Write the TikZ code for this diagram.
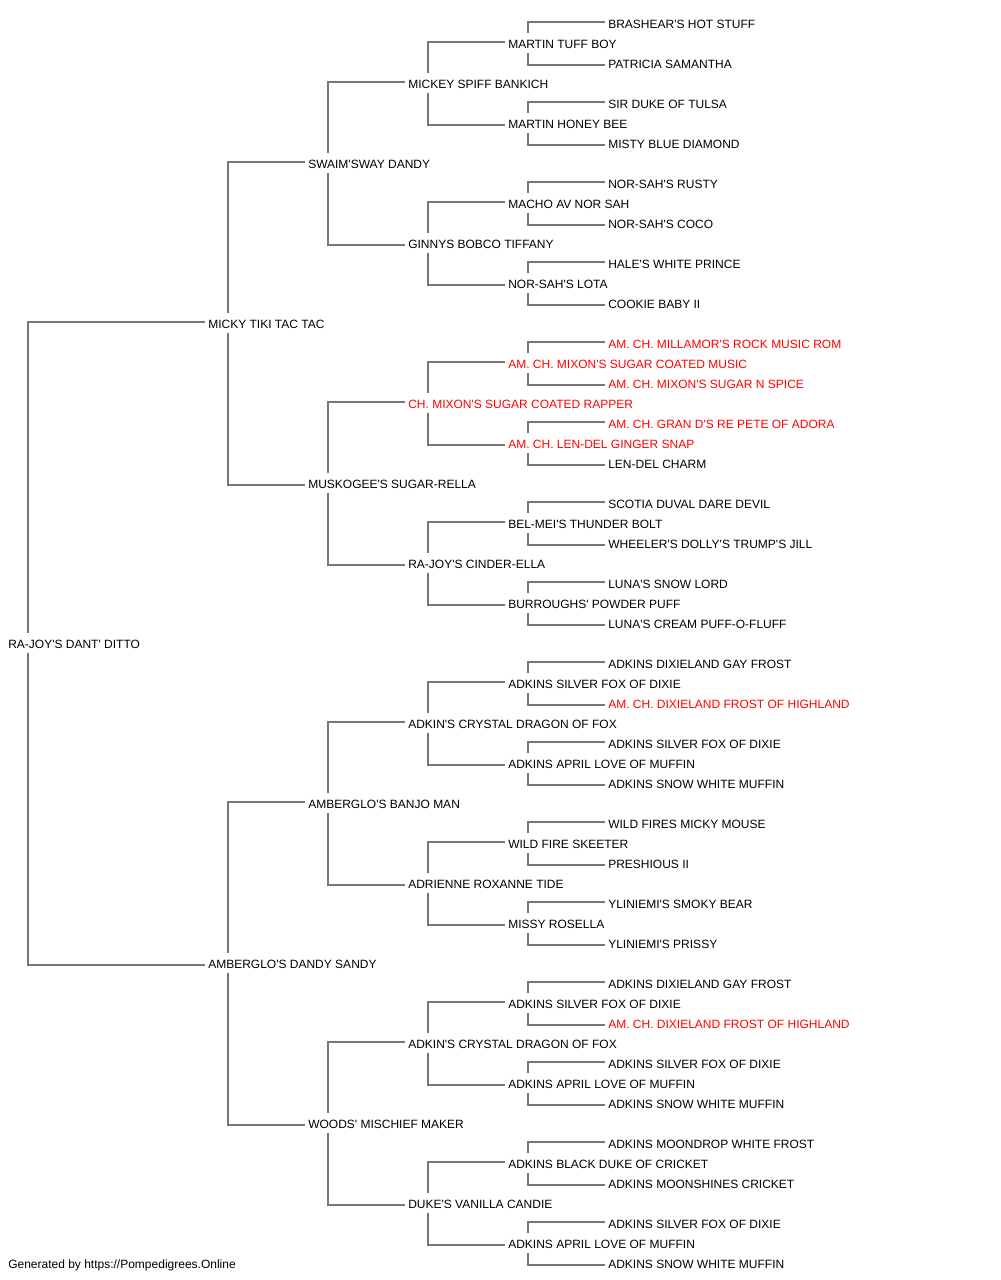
\documentclass[tikz,border=0pt]{standalone}
\usepackage{fontspec}
\setmainfont{Liberation Sans}[Ligatures=TeXOff]
\usetikzlibrary{calc}
\definecolor{linegray}{HTML}{777777}
\definecolor{redname}{HTML}{FF0000}
\tikzset{
  pn/.style={anchor=west, inner xsep=2.25pt, inner ysep=0pt, minimum height=15pt,
    text height=7.94pt, text depth=0pt, font=\fontsize{9pt}{10pt}\selectfont, text=black},
  rn/.style={pn, text=redname},
  conn/.style={draw=linegray, line width=1.5pt}
}
\begin{document}
\begin{tikzpicture}[x=0.75pt,y=-0.75pt]
\useasboundingbox (0,0) rectangle (1000,1280);
% generation 0
\node[pn] (g0-0) at (5,643) {RA-JOY'S DANT' DITTO};
% generation 1
\node[pn] (g1-0) at (205,323) {MICKY TIKI TAC TAC};
\node[pn] (g1-1) at (205,963) {AMBERGLO'S DANDY SANDY};
% generation 2
\node[pn] (g2-0) at (305,163) {SWAIM'SWAY DANDY};
\node[pn] (g2-1) at (305,483) {MUSKOGEE'S SUGAR-RELLA};
\node[pn] (g2-2) at (305,803) {AMBERGLO'S BANJO MAN};
\node[pn] (g2-3) at (305,1123) {WOODS' MISCHIEF MAKER};
% generation 3
\node[pn] (g3-0) at (405,83) {MICKEY SPIFF BANKICH};
\node[pn] (g3-1) at (405,243) {GINNYS BOBCO TIFFANY};
\node[rn] (g3-2) at (405,403) {CH. MIXON'S SUGAR COATED RAPPER};
\node[pn] (g3-3) at (405,563) {RA-JOY'S CINDER-ELLA};
\node[pn] (g3-4) at (405,723) {ADKIN'S CRYSTAL DRAGON OF FOX};
\node[pn] (g3-5) at (405,883) {ADRIENNE ROXANNE TIDE};
\node[pn] (g3-6) at (405,1043) {ADKIN'S CRYSTAL DRAGON OF FOX};
\node[pn] (g3-7) at (405,1203) {DUKE'S VANILLA CANDIE};
% generation 4
\node[pn] (g4-0) at (505,43) {MARTIN TUFF BOY};
\node[pn] (g4-1) at (505,123) {MARTIN HONEY BEE};
\node[pn] (g4-2) at (505,203) {MACHO AV NOR SAH};
\node[pn] (g4-3) at (505,283) {NOR-SAH'S LOTA};
\node[rn] (g4-4) at (505,363) {AM. CH. MIXON'S SUGAR COATED MUSIC};
\node[rn] (g4-5) at (505,443) {AM. CH. LEN-DEL GINGER SNAP};
\node[pn] (g4-6) at (505,523) {BEL-MEI'S THUNDER BOLT};
\node[pn] (g4-7) at (505,603) {BURROUGHS' POWDER PUFF};
\node[pn] (g4-8) at (505,683) {ADKINS SILVER FOX OF DIXIE};
\node[pn] (g4-9) at (505,763) {ADKINS APRIL LOVE OF MUFFIN};
\node[pn] (g4-10) at (505,843) {WILD FIRE SKEETER};
\node[pn] (g4-11) at (505,923) {MISSY ROSELLA};
\node[pn] (g4-12) at (505,1003) {ADKINS SILVER FOX OF DIXIE};
\node[pn] (g4-13) at (505,1083) {ADKINS APRIL LOVE OF MUFFIN};
\node[pn] (g4-14) at (505,1163) {ADKINS BLACK DUKE OF CRICKET};
\node[pn] (g4-15) at (505,1243) {ADKINS APRIL LOVE OF MUFFIN};
% generation 5
\node[pn] (g5-0) at (605,23) {BRASHEAR'S HOT STUFF};
\node[pn] (g5-1) at (605,63) {PATRICIA SAMANTHA};
\node[pn] (g5-2) at (605,103) {SIR DUKE OF TULSA};
\node[pn] (g5-3) at (605,143) {MISTY BLUE DIAMOND};
\node[pn] (g5-4) at (605,183) {NOR-SAH'S RUSTY};
\node[pn] (g5-5) at (605,223) {NOR-SAH'S COCO};
\node[pn] (g5-6) at (605,263) {HALE'S WHITE PRINCE};
\node[pn] (g5-7) at (605,303) {COOKIE BABY II};
\node[rn] (g5-8) at (605,343) {AM. CH. MILLAMOR'S ROCK MUSIC ROM};
\node[rn] (g5-9) at (605,383) {AM. CH. MIXON'S SUGAR N SPICE};
\node[rn] (g5-10) at (605,423) {AM. CH. GRAN D'S RE PETE OF ADORA};
\node[pn] (g5-11) at (605,463) {LEN-DEL CHARM};
\node[pn] (g5-12) at (605,503) {SCOTIA DUVAL DARE DEVIL};
\node[pn] (g5-13) at (605,543) {WHEELER'S DOLLY'S TRUMP'S JILL};
\node[pn] (g5-14) at (605,583) {LUNA'S SNOW LORD};
\node[pn] (g5-15) at (605,623) {LUNA'S CREAM PUFF-O-FLUFF};
\node[pn] (g5-16) at (605,663) {ADKINS DIXIELAND GAY FROST};
\node[rn] (g5-17) at (605,703) {AM. CH. DIXIELAND FROST OF HIGHLAND};
\node[pn] (g5-18) at (605,743) {ADKINS SILVER FOX OF DIXIE};
\node[pn] (g5-19) at (605,783) {ADKINS SNOW WHITE MUFFIN};
\node[pn] (g5-20) at (605,823) {WILD FIRES MICKY MOUSE};
\node[pn] (g5-21) at (605,863) {PRESHIOUS II};
\node[pn] (g5-22) at (605,903) {YLINIEMI'S SMOKY BEAR};
\node[pn] (g5-23) at (605,943) {YLINIEMI'S PRISSY};
\node[pn] (g5-24) at (605,983) {ADKINS DIXIELAND GAY FROST};
\node[rn] (g5-25) at (605,1023) {AM. CH. DIXIELAND FROST OF HIGHLAND};
\node[pn] (g5-26) at (605,1063) {ADKINS SILVER FOX OF DIXIE};
\node[pn] (g5-27) at (605,1103) {ADKINS SNOW WHITE MUFFIN};
\node[pn] (g5-28) at (605,1143) {ADKINS MOONDROP WHITE FROST};
\node[pn] (g5-29) at (605,1183) {ADKINS MOONSHINES CRICKET};
\node[pn] (g5-30) at (605,1223) {ADKINS SILVER FOX OF DIXIE};
\node[pn] (g5-31) at (605,1263) {ADKINS SNOW WHITE MUFFIN};
% footer
\node[pn] (foot) at (5,1263) {Generated by https://Pompedigrees.Online};
% connectors
\foreach \g in {0,...,4}{
  \pgfmathtruncatemacro{\nn}{2^\g-1}
  \pgfmathtruncatemacro{\h}{\g+1}
  \foreach \k in {0,...,\nn}{
    \pgfmathtruncatemacro{\ca}{2*\k}
    \pgfmathtruncatemacro{\cb}{2*\k+1}
    \draw[conn] ($(g\g-\k.north west)+(23,0)$) |- ($(g\h-\ca.west)+(0,-1)$);
    \draw[conn] ($(g\g-\k.south west)+(23,0)$) |- ($(g\h-\cb.west)+(0,2)$);
  }
}
\end{tikzpicture}
\end{document}
